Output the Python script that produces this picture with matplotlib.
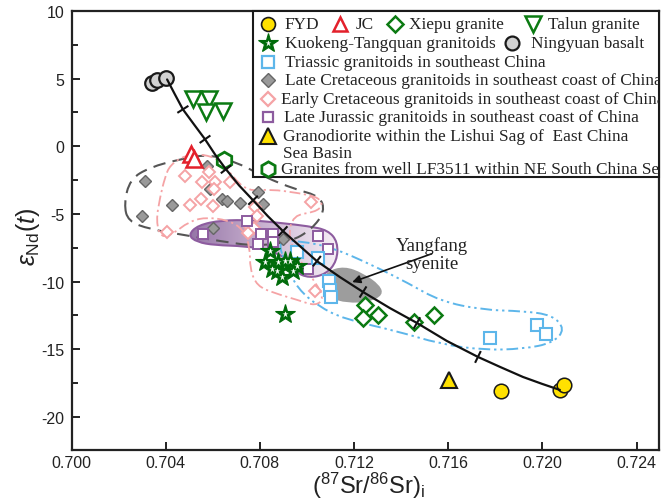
import numpy as np
import matplotlib
matplotlib.use("Agg")
import matplotlib.pyplot as plt
from matplotlib.path import Path
from matplotlib.patches import PathPatch, Rectangle
from matplotlib.colors import LinearSegmentedColormap
from matplotlib.ticker import MultipleLocator

plt.rcParams["font.family"] = ["Liberation Sans", "DejaVu Sans"]
plt.rcParams["mathtext.fontset"] = "custom"
plt.rcParams["mathtext.rm"] = "Liberation Sans"
plt.rcParams["mathtext.it"] = "Liberation Sans:italic"
plt.rcParams["mathtext.bf"] = "Liberation Sans:bold"

# ---------------- sample data: (87Sr/86Sr)i and eNd(t) ----------------
fyd_sr = [0.71824, 0.72074, 0.72091]
fyd_nd = [-18.08, -18.01, -17.64]
jc_sr = [0.70508, 0.70520]
jc_nd = [-0.59, -0.96]
xiepu_sr = [0.71246, 0.71238, 0.71301, 0.71454, 0.71539]
xiepu_nd = [-11.73, -12.69, -12.47, -12.99, -12.47]
talun_sr = [0.70516, 0.70584, 0.70571, 0.70643]
talun_nd = [3.47, 3.47, 2.51, 2.58]
kuokeng_sr = [0.70843, 0.70822, 0.70877, 0.70907, 0.70928, 0.70873,
              0.70894, 0.70941, 0.70958, 0.70851, 0.70907]
kuokeng_nd = [-7.75, -8.56, -8.56, -8.49, -8.49, -9.23,
              -9.67, -9.23, -8.86, -9.08, -12.40]
ningyuan_sr = [0.70342, 0.70363, 0.70401]
ningyuan_nd = [4.65, 4.87, 5.02]
triassic_sr = [0.70958, 0.71047, 0.71093, 0.71098, 0.71102, 0.71777, 0.71977, 0.72015]
triassic_nd = [-7.82, -8.27, -9.96, -10.63, -11.14, -14.17, -13.20, -13.87]
late_cret_sr = [0.70312, 0.70427, 0.70299, 0.70575, 0.70588, 0.70639,
                0.70660, 0.70715, 0.70792, 0.70813, 0.70601, 0.70898]
late_cret_nd = [-2.58, -4.35, -5.17, -1.48, -3.17, -3.91,
                -4.06, -4.21, -3.39, -4.28, -6.05, -6.86]
early_cret_sr = [0.70482, 0.70554, 0.70584, 0.70609, 0.70605, 0.70503, 0.70550,
                 0.70601, 0.70673, 0.70779, 0.70788, 0.70749, 0.70775, 0.70749,
                 0.70405, 0.71017, 0.71034]
early_cret_nd = [-2.21, -2.66, -1.92, -2.66, -3.17, -4.35, -3.91,
                 -4.43, -2.66, -4.50, -5.17, -5.83, -6.05, -6.42,
                 -6.35, -4.13, -10.70]
late_jur_sr = [0.70558, 0.70745, 0.70805, 0.70856, 0.70792, 0.70856, 0.71047, 0.71089, 0.71004]
late_jur_nd = [-6.49, -5.54, -6.49, -6.49, -7.23, -7.08, -6.64, -7.60, -9.08]
lishui_sr = [0.71603]
lishui_nd = [-17.27]
lf3511_sr = [0.70648]
lf3511_nd = [-1.03]

# mixing curve between the basaltic and crustal end-members (10 % steps marked)
mix_sr = [0.70406, 0.70439, 0.70473, 0.70520, 0.70567, 0.70609, 0.70656, 0.70711,
          0.70771, 0.70834, 0.70898, 0.70970, 0.71042, 0.71140, 0.71238, 0.71352,
          0.71467, 0.71594, 0.71726, 0.71820, 0.71917, 0.71998, 0.72074]
mix_nd = [4.94, 3.84, 2.73, 1.62, 0.52, -0.59, -1.70, -2.88,
          -3.99, -5.17, -6.27, -7.38, -8.49, -9.67, -10.77, -11.96,
          -13.06, -14.39, -15.57, -16.31, -17.05, -17.56, -18.01]
mix_step_idx = [2, 4, 6, 8, 10, 12, 14, 16, 18]

# field outlines (control polygons)
late_cret_field_sr = [0.70223, 0.70248, 0.70333, 0.70461, 0.70575, 0.70694, 0.70822, 0.70949,
                      0.71055, 0.71076, 0.71021, 0.70928, 0.70779, 0.70631, 0.70482, 0.70333, 0.70240]
late_cret_field_nd = [-4.28, -2.44, -1.55, -0.96, -0.59, -1.11, -2.29, -3.17,
                      -3.69, -4.80, -6.13, -7.08, -7.38, -7.01, -6.57, -6.13, -5.54]
early_cret_field_sr = [0.70418, 0.70482, 0.70567, 0.70639, 0.70686, 0.70749, 0.70843, 0.70970,
                       0.71047, 0.71068, 0.71034, 0.70941, 0.70919, 0.70970, 0.71038, 0.71072,
                       0.71038, 0.70962, 0.70861, 0.70788, 0.70758, 0.70758, 0.70729, 0.70666,
                       0.70567, 0.70495, 0.70436, 0.70380, 0.70359, 0.70376, 0.70397]
early_cret_field_nd = [-1.40, -0.66, -0.59, -1.11, -2.29, -3.32, -3.17, -3.47,
                       -3.76, -4.35, -4.87, -5.09, -6.72, -8.49, -10.11, -11.22,
                       -11.81, -11.37, -10.85, -10.33, -9.08, -7.45, -6.13, -5.46,
                       -5.24, -5.61, -6.42, -6.79, -5.54, -3.76, -2.29]
late_jur_field_sr = [0.70495, 0.70537, 0.70639, 0.70766, 0.70894, 0.71004, 0.71089, 0.71131,
                     0.71127, 0.71081, 0.71009, 0.70950, 0.70919, 0.70843, 0.70737, 0.70609, 0.70533]
late_jur_field_nd = [-6.57, -5.83, -5.46, -5.46, -5.68, -5.90, -6.20, -7.08,
                     -8.49, -9.45, -9.74, -9.30, -8.34, -7.68, -7.38, -7.31, -7.08]
triassic_field_sr = [0.70873, 0.70970, 0.71103, 0.71277, 0.71429, 0.71565, 0.71747, 0.71917,
                     0.72041, 0.72096, 0.72045, 0.71917, 0.71747, 0.71565, 0.71379, 0.71158,
                     0.71047, 0.70962, 0.70915]
triassic_field_nd = [-6.94, -7.01, -7.45, -8.78, -10.11, -11.44, -12.10, -12.18,
                     -12.47, -13.51, -14.54, -14.98, -15.06, -14.61, -13.65, -12.77,
                     -11.81, -10.55, -8.93]
yangfang_sr = [0.71060, 0.71086, 0.71158, 0.71238, 0.71310, 0.71323, 0.71264, 0.71170, 0.71098]
yangfang_nd = [-10.11, -9.23, -8.86, -9.37, -10.26, -11.00, -11.51, -11.59, -11.22]

x_ticks = [0.700, 0.704, 0.708, 0.712, 0.716, 0.720, 0.724]
y_ticks = [-20, -15, -10, -5, 0, 5, 10]

GREEN = "#0b7a12"
RED = "#e3202b"
YELLOW = "#ffe100"
BLUE = "#5db6ea"
PINK = "#f5a3a5"
PURPLE = "#8d5c9f"
GREY_FACE = "#9a9a9a"
GREY_EDGE = "#666666"


def smooth_closed(xs, ys):
    """Closed quadratic B-spline path through the midpoints of a control polygon."""
    pts = np.column_stack([xs, ys])
    mids = (pts + np.roll(pts, -1, axis=0)) / 2.0
    verts = [mids[-1]]
    codes = [Path.MOVETO]
    for i in range(len(pts)):
        verts += [pts[i], mids[i]]
        codes += [Path.CURVE3, Path.CURVE3]
    return Path(verts, codes)


fig = plt.figure(figsize=(6.72, 5.02), dpi=100)
ax = fig.add_axes([0.1064, 0.1016, 0.8743, 0.8745])
ax.set_xlim(0.700, 0.72495)
ax.set_ylim(-22.45, 10.0)

# --- fields ---
jur_path = smooth_closed(late_jur_field_sr, late_jur_field_nd)
jur_patch = PathPatch(jur_path, facecolor="none", edgecolor=PURPLE, lw=1.5, zorder=2)
ax.add_patch(jur_patch)
grad_cmap = LinearSegmentedColormap.from_list("jur", ["#9474a6", "#c9b2d0", "#f7f0f6"])
grad = np.linspace(0, 1, 256).reshape(1, -1)
im = ax.imshow(grad, cmap=grad_cmap, aspect="auto", origin="lower",
               extent=(min(late_jur_field_sr), max(late_jur_field_sr),
                       min(late_jur_field_nd), max(late_jur_field_nd)),
               zorder=1, interpolation="bilinear")
im.set_clip_path(jur_patch)

ax.add_patch(PathPatch(smooth_closed(yangfang_sr, yangfang_nd),
                       facecolor="#9d9d9d", edgecolor="none", zorder=1.5))

ax.add_patch(PathPatch(smooth_closed(late_cret_field_sr, late_cret_field_nd),
                       facecolor="none", edgecolor="#555555", lw=1.5,
                       linestyle=(0, (6, 3.5)), zorder=2.2))
ax.add_patch(PathPatch(smooth_closed(early_cret_field_sr, early_cret_field_nd),
                       facecolor="none", edgecolor=PINK, lw=1.3,
                       linestyle=(0, (6, 2, 1.2, 2)), zorder=2.2))
ax.add_patch(PathPatch(smooth_closed(triassic_field_sr, triassic_field_nd),
                       facecolor="none", edgecolor=BLUE, lw=1.4,
                       linestyle=(0, (6, 2, 1.2, 2, 1.2, 2)), zorder=2.2))

# --- sample symbols ---
ax.plot(late_cret_sr, late_cret_nd, ls="none", marker="D", ms=6.2, mfc=GREY_FACE,
        mec=GREY_EDGE, mew=1.0, zorder=3)
ax.plot(early_cret_sr, early_cret_nd, ls="none", marker="D", ms=6.2, mfc="white",
        mec=PINK, mew=1.4, zorder=3.1)
ax.plot(late_jur_sr, late_jur_nd, ls="none", marker="s", ms=6.5, mfc="white",
        mec=PURPLE, mew=1.4, zorder=3.2)
ax.plot(triassic_sr, triassic_nd, ls="none", marker="s", ms=9.0, mfc="white",
        mec=BLUE, mew=1.5, zorder=3.3)
ax.plot(kuokeng_sr, kuokeng_nd, ls="none", marker="*", ms=15, mfc="#006b0a",
        mec="#006b0a", mew=0.8, zorder=3.4)
ax.plot(kuokeng_sr, kuokeng_nd, ls="none", marker="*", ms=4.5, mfc="white",
        mec="none", zorder=3.45)
ax.plot(xiepu_sr, xiepu_nd, ls="none", marker="D", ms=8.6, mfc="white",
        mec=GREEN, mew=1.8, zorder=3.5)
ax.plot(talun_sr, talun_nd, ls="none", marker="v", ms=12, mfc="white",
        mec=GREEN, mew=1.8, zorder=3.5)
ax.plot(jc_sr, jc_nd, ls="none", marker="^", ms=11, mfc="white",
        mec=RED, mew=1.8, zorder=3.5)
ax.plot(lf3511_sr, lf3511_nd, ls="none", marker="h", ms=12, mfc="white",
        mec=GREEN, mew=2.0, zorder=3.5)
ax.plot(ningyuan_sr, ningyuan_nd, ls="none", marker="o", ms=10.5, mfc="#d2d2d2",
        mec="#1a1a1a", mew=1.6, zorder=3.5)
ax.plot(fyd_sr, fyd_nd, ls="none", marker="o", ms=10.5, mfc=YELLOW,
        mec="#1a1a1a", mew=1.1, zorder=3.5)
ax.plot(lishui_sr, lishui_nd, ls="none", marker="^", ms=11, mfc=YELLOW,
        mec="#1a1a1a", mew=1.5, zorder=3.5)

# --- mixing curve with 10 % step marks ---
ax.plot(mix_sr, mix_nd, color="#111111", lw=1.6, zorder=5, solid_capstyle="round")
trans = ax.transData
disp = trans.transform(np.column_stack([mix_sr, mix_nd]))
inv = trans.inverted()
for i in mix_step_idx:
    d = disp[i + 1] - disp[i - 1]
    d = d / np.hypot(*d)
    nrm = np.array([-d[1], d[0]])
    seg = inv.transform(np.array([disp[i] - nrm * 5.5, disp[i] + nrm * 5.5]))
    ax.plot(seg[:, 0], seg[:, 1], color="#111111", lw=1.5, zorder=5)

# --- annotation ---
ax.annotate("Yangfang\nsyenite", xy=(0.71192, -10.04), xytext=(0.71529, -7.95),
            ha="center", va="center", fontsize=13.5, family="Liberation Serif",
            color="#222222", linespacing=1.1,
            arrowprops=dict(arrowstyle="-|>", color="#111111", lw=1.2,
                            mutation_scale=12, shrinkA=0, shrinkB=0,
                            patchA=None),
            zorder=6)

# --- axes styling ---
ax.set_xticks(x_ticks)
ax.set_xticklabels([f"{v:.3f}" for v in x_ticks])
ax.set_yticks(y_ticks)
ax.set_yticklabels([str(v) for v in y_ticks])
ax.yaxis.set_minor_locator(MultipleLocator(2.5))
ax.tick_params(which="both", direction="in", top=False, right=False,
               labelsize=11.5, width=1.4, color="#222222", labelcolor="#222222")
ax.tick_params(which="major", length=5.5, pad=5)
ax.tick_params(axis="x", which="major", pad=3.5)
ax.tick_params(which="minor", length=4)
for sp in ax.spines.values():
    sp.set_linewidth(1.6)
    sp.set_color("#222222")

ax.set_xlabel(r"$(^{87}\mathrm{Sr}/^{86}\mathrm{Sr})_\mathrm{i}$", fontsize=17, color="#222222",
              va="bottom")
ax.xaxis.set_label_coords(0.505, -0.1145)
ax.set_ylabel(r"$\varepsilon_{\mathrm{Nd}}(t)$", fontsize=18, color="#222222")
ax.yaxis.set_label_coords(-0.05, 0.487)

# --- legend box ---
legend_font = dict(family="Liberation Serif", fontsize=12.4, color="#222222",
                   va="center", ha="left", transform=ax.transAxes, clip_on=True, zorder=12)
ax.add_patch(Rectangle((0.309, 0.622), 0.691, 0.378, transform=ax.transAxes,
                       facecolor="white", edgecolor="#1a1a1a", lw=1.5, zorder=10,
                       clip_on=False))

legend_entries = [
    # (marker x, row y, text x, label, marker style)
    (0.334, 0.970, 0.363, "FYD", dict(marker="o", ms=10, mfc=YELLOW, mec="#1a1a1a", mew=1.2)),
    (0.457, 0.970, 0.483, "JC", dict(marker="^", ms=10.5, mfc="white", mec=RED, mew=1.8)),
    (0.551, 0.970, 0.574, "Xiepu granite", dict(marker="D", ms=8, mfc="white", mec=GREEN, mew=1.8)),
    (0.785, 0.970, 0.811, "Talun granite", dict(marker="v", ms=11, mfc="white", mec=GREEN, mew=1.8)),
    (0.334, 0.927, 0.363, "Kuokeng-Tangquan granitoids", dict(marker="*", ms=15, mfc="#006b0a", mec="#006b0a", mew=0.8)),
    (0.750, 0.927, 0.782, "Ningyuan basalt", dict(marker="o", ms=10, mfc="#d2d2d2", mec="#1a1a1a", mew=1.6)),
    (0.334, 0.884, 0.363, "Triassic granitoids in southeast China", dict(marker="s", ms=9, mfc="white", mec=BLUE, mew=1.6)),
    (0.334, 0.843, 0.363, "Late Cretaceous granitoids in southeast coast of China", dict(marker="D", ms=7, mfc=GREY_FACE, mec=GREY_EDGE, mew=1.0)),
    (0.334, 0.800, 0.357, "Early Cretaceous granitoids in southeast coast of China", dict(marker="D", ms=7, mfc="white", mec=PINK, mew=1.6)),
    (0.334, 0.759, 0.361, "Late Jurassic granitoids in southeast coast of China", dict(marker="s", ms=7, mfc="white", mec=PURPLE, mew=1.6)),
    (0.334, 0.715, 0.360, "Granodiorite within the Lishui Sag of  East China\nSea Basin", dict(marker="^", ms=11, mfc=YELLOW, mec="#1a1a1a", mew=1.5)),
    (0.334, 0.640, 0.357, "Granites from well LF3511 within NE South China Sea", dict(marker="h", ms=11, mfc="white", mec=GREEN, mew=2.0)),
]
line_gap = 0.039
for mx, my, tx, label, style in legend_entries:
    ax.plot([mx], [my], ls="none", transform=ax.transAxes, clip_on=False, zorder=11, **style)
    if style["marker"] == "*":
        ax.plot([mx], [my], ls="none", marker="*", ms=4.5, mfc="white", mec="none",
                transform=ax.transAxes, clip_on=False, zorder=11.5)
    for k, part in enumerate(label.split("\n")):
        ax.text(tx, my - k * line_gap, part, **legend_font)

fig.savefig("out.png", dpi=100)
